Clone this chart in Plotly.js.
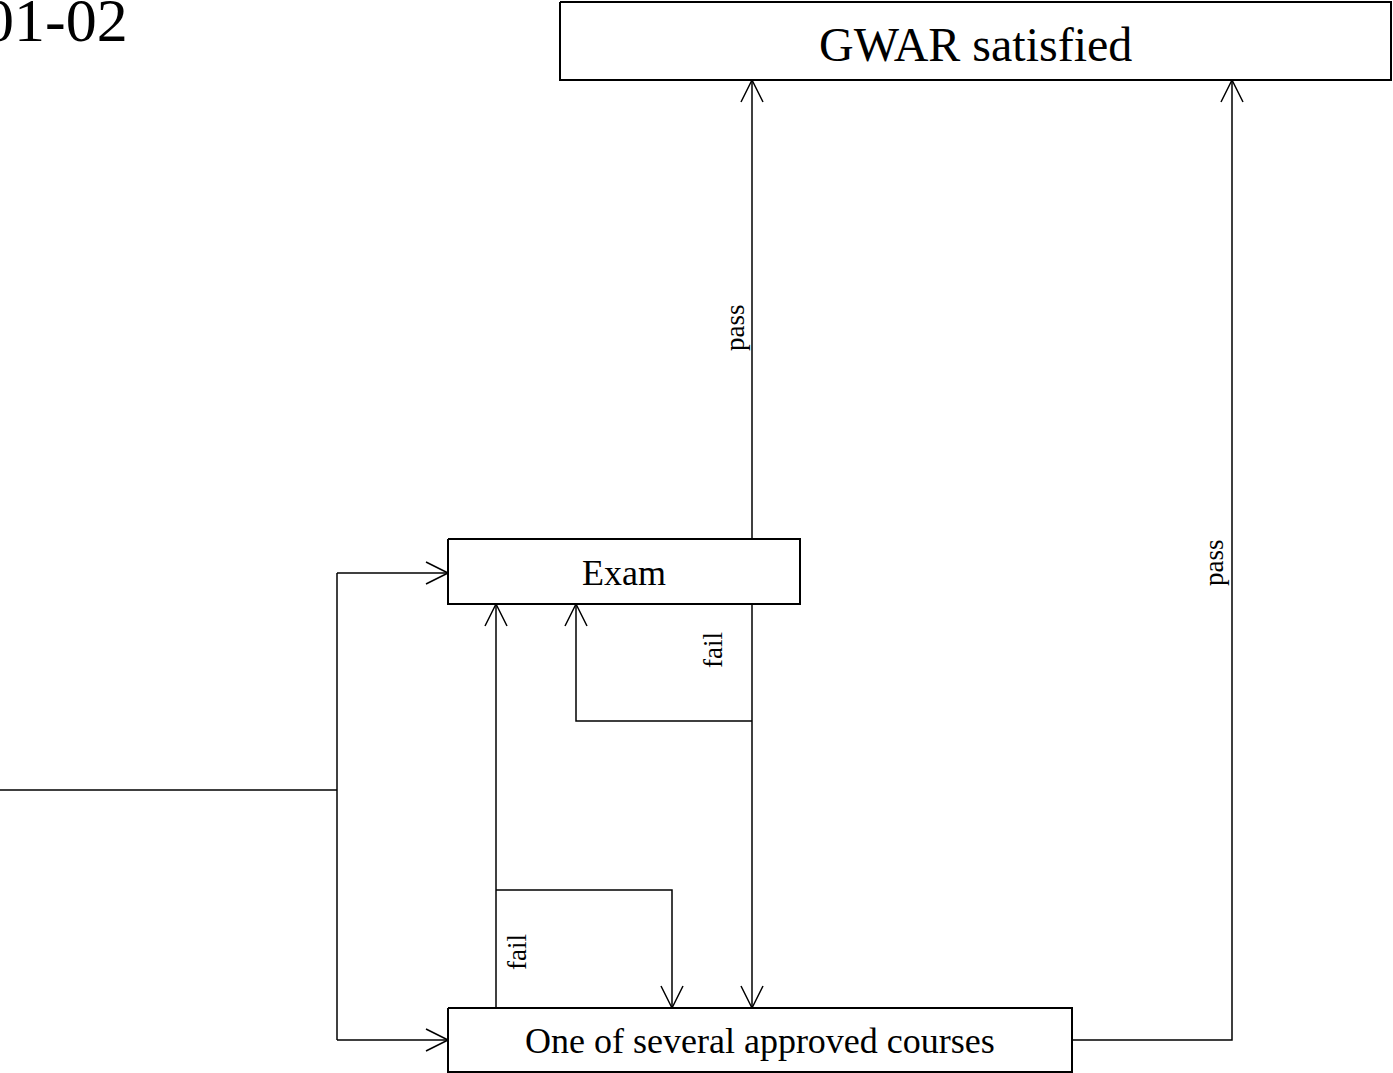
<!DOCTYPE html>
<html><head><meta charset="utf-8">
<script src="https://cdn.plot.ly/plotly-3.0.1.min.js"></script>
<style>html,body{margin:0;padding:0;background:#fff;overflow:hidden}#chart{width:1393px;height:1073px}</style>
</head><body><div id="chart"></div>
<script>
// ---- data ----
const titleText = "2001-02";
const nodeNames = ["GWAR satisfied", "Exam", "One of several approved courses"];
const nodeX0 = [560, 448, 448];
const nodeX1 = [1391, 800, 1072];
const nodeY0 = [2, 539, 1008];
const nodeY1 = [80, 604, 1072];
const nodeFont = [48, 36, 36];

// edges as polylines (canvas units), arrow at last point if true
const edgeXs = [[0, 337], [337, 337], [337, 448], [337, 448], [752, 752], [752, 752], [752, 576, 576], [496, 496], [496, 672, 672], [1072, 1232, 1232]];
const edgeYs = [[790, 790], [573, 1040], [573, 573], [1040, 1040], [539, 80], [604, 1008], [721, 721, 604], [1008, 604], [890, 890, 1008], [1040, 1040, 80]];
const edgeArrow = [false, false, true, true, true, true, true, true, true, true];

const edgeLabelText = ["pass", "fail", "fail", "pass"];
const edgeLabelX = [735, 713, 517, 1214];
const edgeLabelY = [328, 650, 952, 563];

// ---- build ----
const FONT = "Liberation Serif, Times New Roman, serif";
const traces = [];
for (let i = 0; i < nodeNames.length; i++) {
  traces.push({
    x: [nodeX0[i], nodeX1[i], nodeX1[i], nodeX0[i], nodeX0[i]],
    y: [nodeY0[i], nodeY0[i], nodeY1[i], nodeY1[i], nodeY0[i]],
    mode: "lines", line: {color: "#000", width: 2}, hoverinfo: "skip", showlegend: false
  });
}
const AL = 22, AW = 11;
for (let i = 0; i < edgeXs.length; i++) {
  const xs = edgeXs[i], ys = edgeYs[i];
  traces.push({x: xs, y: ys, mode: "lines", line: {color: "#000", width: 1.5}, hoverinfo: "skip", showlegend: false});
  if (edgeArrow[i]) {
    const n = xs.length;
    const tx = xs[n - 1], ty = ys[n - 1];
    let dx = tx - xs[n - 2], dy = ty - ys[n - 2];
    const len = Math.hypot(dx, dy); dx /= len; dy /= len;
    const nx = -dy, ny = dx;
    traces.push({
      x: [tx - AL * dx + AW * nx, tx, tx - AL * dx - AW * nx],
      y: [ty - AL * dy + AW * ny, ty, ty - AL * dy - AW * ny],
      mode: "lines", line: {color: "#000", width: 1.5}, hoverinfo: "skip", showlegend: false
    });
  }
}
const annotations = [];
for (let i = 0; i < nodeNames.length; i++) {
  annotations.push({
    x: (nodeX0[i] + nodeX1[i]) / 2, y: (nodeY0[i] + nodeY1[i]) / 2 + (i === 0 ? 3 : 1),
    xref: "x", yref: "y", text: nodeNames[i], showarrow: false,
    xanchor: "center", yanchor: "middle",
    font: {family: FONT, size: nodeFont[i], color: "#000"}
  });
}
for (let i = 0; i < edgeLabelText.length; i++) {
  annotations.push({
    x: edgeLabelX[i], y: edgeLabelY[i], xref: "x", yref: "y",
    text: edgeLabelText[i], showarrow: false, textangle: -90,
    xanchor: "center", yanchor: "middle",
    font: {family: FONT, size: 27, color: "#000"}
  });
}
annotations.push({
  x: 130, y: 20, xref: "x", yref: "y", text: titleText, showarrow: false,
  xanchor: "right", yanchor: "middle",
  font: {family: FONT, size: 62, color: "#000"}
});

const layout = {
  width: 1393, height: 1073,
  margin: {l: 0, r: 0, t: 0, b: 0},
  paper_bgcolor: "#fff", plot_bgcolor: "#fff",
  xaxis: {range: [0, 1393], visible: false, fixedrange: true},
  yaxis: {range: [1073, 0], visible: false, fixedrange: true},
  annotations: annotations,
  showlegend: false
};
Plotly.newPlot("chart", traces, layout, {staticPlot: true, displayModeBar: false});
</script>
</body></html>
